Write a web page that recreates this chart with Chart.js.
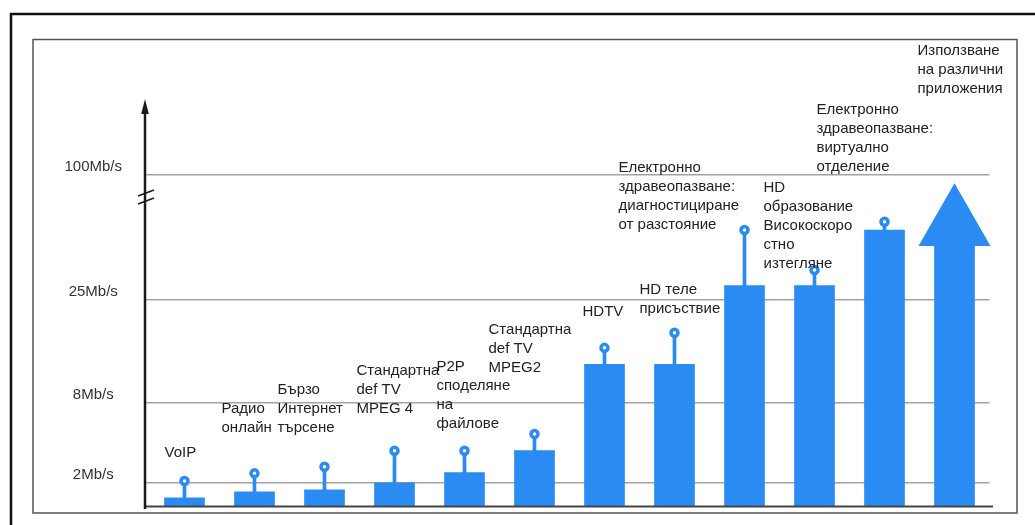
<!DOCTYPE html>
<html>
<head>
<meta charset="utf-8">
<script src="https://cdn.jsdelivr.net/npm/chart.js@4.4.1/dist/chart.umd.min.js"></script>
<style>
  html, body { margin: 0; padding: 0; background: #fff; }
  #wrap { width: 1035px; height: 525px; }
</style>
</head>
<body>
<div id="wrap"><canvas id="c" width="1035" height="525"></canvas></div>
<script>
// ---------- DATA ----------
const categories = [
  ['VoIP'],
  ['Радио', 'онлайн'],
  ['Бързо', 'Интернет', 'търсене'],
  ['Стандартна', 'def TV', 'MPEG 4'],
  ['P2P', 'споделяне', 'на', 'файлове'],
  ['Стандартна', 'def TV', 'MPEG2'],
  ['HDTV'],
  ['HD теле', 'присъствие'],
  ['Електронно', 'здравеопазване:', 'диагностициране', 'от разстояние'],
  ['HD', 'образование', 'Високоскоро', 'стно', 'изтегляне'],
  ['Електронно', 'здравеопазване:', 'виртуално', 'отделение'],
  ['Използване', 'на различни', 'приложения']
];
// typical bandwidth (bar top), Mb/s
const typicalRate = [0.73, 1.23, 1.38, 1.98, 2.74, 4.4, 14.4, 14.4, 33.6, 33.6, 66.8, 57.3];
// peak bandwidth (stem tip), Mb/s
const peakRate = [2.11, 2.69, 3.19, 4.4, 4.4, 5.66, 17.1, 19.6, 66.8, 42.9, 71.8, null];
// tip of the growth arrow (last category), Mb/s
const arrowTipRate = 94.7;
// y-axis ticks
const yTickValues = [2, 8, 25, 100];
const yTickLabels = ['2Mb/s', '8Mb/s', '25Mb/s', '100Mb/s'];

// ---------- STYLE / LAYOUT ----------
const BLUE = '#2a8bf2';
const TEXT = '#222';
const FONT = "'Liberation Sans', Arial, sans-serif";
// broken-axis band stops and their relative heights
const bandStops = [0, 2, 8, 25, 100, 145];
const bandHeights = [24, 79.5, 103, 125.5, 74.5];
// label anchor offsets (px) relative to bar centre / tip marker
const labelLayout = [
  {dx: -20, dy: -28}, {dx: -33, dy: -45}, {dx: -47, dy: -39}, {dx: -38, dy: -42},
  {dx: -28, dy: -27}, {dx: -46, dy: -66}, {dx: -22, dy: -36}, {dx: -35, dy: -24},
  {dx: -126, dy: -5}, {dx: -51, dy: -6}, {dx: -68, dy: -55}, {dx: -37, dy: -95}
];
const LINE_H = 19;

// ---------- broken (piecewise linear) scale ----------
const bandTotal = bandHeights.reduce((a, b) => a + b, 0);
class BrokenScale extends Chart.LinearScale {
  static id = 'broken';
  static defaults = {};
  buildTicks() { return yTickValues.map(v => ({ value: v })); }
  _dec(v) {
    let acc = 0;
    for (let i = 0; i < bandHeights.length; i++) {
      const a = bandStops[i], b = bandStops[i + 1];
      if (v <= b || i === bandHeights.length - 1) {
        return (acc + bandHeights[i] * (v - a) / (b - a)) / bandTotal;
      }
      acc += bandHeights[i];
    }
    return 0;
  }
  getPixelForValue(v) {
    if (v === null || v === undefined || isNaN(v)) return NaN;
    return this.getPixelForDecimal(this._dec(v));
  }
  getValueForPixel(p) {
    const d = this.getDecimalForPixel(p) * bandTotal;
    let acc = 0;
    for (let i = 0; i < bandHeights.length; i++) {
      if (d <= acc + bandHeights[i] || i === bandHeights.length - 1) {
        const a = bandStops[i], b = bandStops[i + 1];
        return a + (b - a) * (d - acc) / bandHeights[i];
      }
      acc += bandHeights[i];
    }
    return 0;
  }
}
Chart.register(BrokenScale);

// ---------- plugins ----------
const decorPlugin = {
  id: 'decor',
  beforeDraw(chart) {
    const ctx = chart.ctx;
    ctx.save();
    ctx.fillStyle = '#fff';
    ctx.fillRect(0, 0, chart.width, chart.height);
    // outer frame
    ctx.strokeStyle = '#111';
    ctx.lineWidth = 2.5;
    ctx.strokeRect(11, 14, 1200, 700);
    // inner frame
    ctx.strokeStyle = '#555';
    ctx.lineWidth = 1.5;
    ctx.strokeRect(33, 39.5, 984, 473.5);
    ctx.restore();
  },
  afterDatasetsDraw(chart) {
    const ctx = chart.ctx;
    const y = chart.scales.y;
    const area = chart.chartArea;
    const barMeta = chart.getDatasetMeta(1);
    ctx.save();
    // growth arrow head on last bar
    const last = categories.length - 1;
    const el = barMeta.data[last];
    const baseY = y.getPixelForValue(typicalRate[last]);
    const tipY = y.getPixelForValue(arrowTipRate);
    ctx.fillStyle = BLUE;
    ctx.beginPath();
    ctx.moveTo(el.x - 36, baseY);
    ctx.lineTo(el.x + 36, baseY);
    ctx.lineTo(el.x, tipY);
    ctx.closePath();
    ctx.fill();

    // baseline
    const y0 = y.getPixelForValue(0);
    const ax = area.left - 4.5;
    ctx.strokeStyle = '#444';
    ctx.lineWidth = 2;
    ctx.beginPath();
    ctx.moveTo(ax, y0);
    ctx.lineTo(993, y0);
    ctx.stroke();

    // y axis with arrow
    ctx.strokeStyle = '#1a1a1a';
    ctx.lineWidth = 2.5;
    ctx.beginPath();
    ctx.moveTo(ax, y0 + 2.5);
    ctx.lineTo(ax, area.top + 10);
    ctx.stroke();
    ctx.fillStyle = '#1a1a1a';
    ctx.beginPath();
    ctx.moveTo(ax, area.top - 1);
    ctx.lineTo(ax - 3.8, area.top + 14);
    ctx.lineTo(ax + 3.8, area.top + 14);
    ctx.closePath();
    ctx.fill();

    // axis break marks
    ctx.lineWidth = 1.6;
    ctx.strokeStyle = '#1a1a1a';
    [192, 200].forEach(by => {
      ctx.beginPath();
      ctx.moveTo(ax - 7, by + 4);
      ctx.lineTo(ax + 9, by - 2);
      ctx.stroke();
    });
    ctx.restore();
  },
  afterDraw(chart) {
    const ctx = chart.ctx;
    const y = chart.scales.y;
    const barMeta = chart.getDatasetMeta(1);
    ctx.save();
    ctx.font = '15px ' + FONT;
    ctx.fillStyle = TEXT;
    ctx.textAlign = 'left';
    ctx.textBaseline = 'middle';
    categories.forEach((lines, i) => {
      const el = barMeta.data[i];
      const anchorVal = peakRate[i] != null ? peakRate[i] : arrowTipRate;
      const anchorY = y.getPixelForValue(anchorVal);
      const x = el.x + labelLayout[i].dx;
      const lastY = anchorY + labelLayout[i].dy;
      lines.forEach((t, k) => {
        ctx.fillText(t, x, lastY - (lines.length - 1 - k) * LINE_H);
      });
    });
    ctx.restore();
  }
};

new Chart(document.getElementById('c'), {
  type: 'bar',
  data: {
    labels: categories.map(l => l.join(' ')),
    datasets: [
      {
        type: 'line',
        label: 'peak marker',
        data: peakRate,
        showLine: false,
        pointRadius: 3.5,
        pointHoverRadius: 3.5,
        pointBorderWidth: 3.5,
        pointBackgroundColor: '#fff',
        pointBorderColor: BLUE,
        clip: false
      },
      {
        label: 'typical',
        data: typicalRate,
        backgroundColor: BLUE,
        borderWidth: 0,
        barThickness: 40,
        grouped: false
      },
      {
        label: 'peak',
        data: peakRate.map((p, i) => p == null ? null : [typicalRate[i], p]),
        backgroundColor: BLUE,
        borderWidth: 0,
        barThickness: 3,
        grouped: false
      }
    ]
  },
  options: {
    responsive: false,
    animation: false,
    devicePixelRatio: 1,
    layout: { padding: { left: 0, right: 45.5, top: 100, bottom: 18.5 } },
    plugins: { legend: { display: false }, tooltip: { enabled: false } },
    scales: {
      x: { type: 'category', display: false, offset: true, grid: { display: false } },
      y: {
        type: 'broken',
        position: 'left',
        min: 0,
        max: 145,
        afterFit: s => { s.width = 149.5; s.paddingTop = 0; s.paddingBottom = 0; },
        border: { display: false },
        grid: { color: '#a3a3a3', lineWidth: 1.4, drawTicks: true, tickLength: 4.5 },
        ticks: {
          font: { family: FONT, size: 15 },
          color: '#333',
          padding: 23,
          crossAlign: 'center',
          labelOffset: -8,
          autoSkip: false,
          callback: (v, i) => yTickLabels[i]
        }
      }
    }
  },
  plugins: [decorPlugin]
});
</script>
</body>
</html>
